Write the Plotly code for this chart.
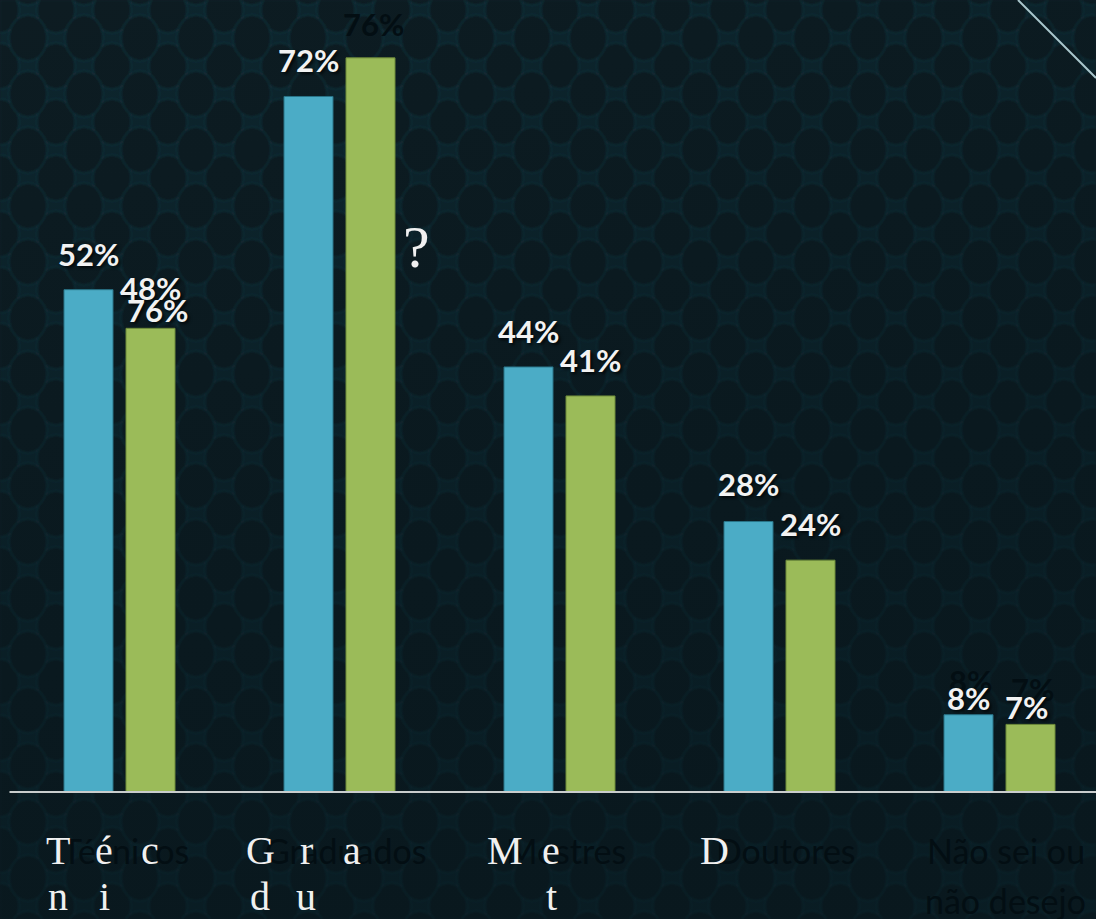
import base64
import plotly.graph_objects as go

# ---- data -------------------------------------------------------------
categories = ["Técnicos", "Graduados", "Mestres", "Doutores", "Não sei ou|não desejo"]
series_a = [52, 72, 44, 28, 8]     # blue bars
series_b = [48, 76, 41, 24, 7]     # green bars

# ---- page geometry (pixels) ------------------------------------------
W, H = 1096, 919
PLOT_H = 800                 # plot area spans y = 0 .. 800 px
BASE_PX = 792                # pixel row of the value 0
PX_PER_UNIT = 9.66
GROUP_PX = 220               # pixel width of one category band
FIRST_CENTER_PX = 119.5
BAR_PX = 49
PAIR_GAP_PX = 13

x_lo = -FIRST_CENTER_PX / GROUP_PX
x_hi = x_lo + W / GROUP_PX
y_hi = BASE_PX / PX_PER_UNIT
y_lo = -(PLOT_H - BASE_PX) / PX_PER_UNIT

bar_w = BAR_PX / GROUP_PX
half_sep = (BAR_PX + PAIR_GAP_PX) / 2 / GROUP_PX
idx = list(range(len(categories)))

BLUE = "#4bacc6"
GREEN = "#9bbb59"
BG = "#0b2028"
GHOST = "#030e13"
WHITE = "#f2f2f2"


def px_to_paper_x(px):
    return px / W


def px_to_paper_y(py):
    return (PLOT_H - py) / PLOT_H


# ---- patterned backdrop (scale texture + darkening toward the bottom) --
cells = []
for cx, cy in [(0, 0), (56, 0), (0, 56), (56, 56), (28, 28)]:
    cells.append(
        f"<ellipse cx='{cx}' cy='{cy - 4}' rx='19' ry='23' fill='#071a20' "
        f"stroke='#12313b' stroke-width='1.5'/>"
    )
svg = (
    f"<svg xmlns='http://www.w3.org/2000/svg' width='{W}' height='{H}'>"
    "<defs>"
    "<filter id='b'><feGaussianBlur stdDeviation='1.3'/></filter>"
    "<pattern id='p' width='56' height='56' patternUnits='userSpaceOnUse' x='0' y='14'>"
    "<rect width='56' height='56' fill='#0d252d'/>"
    + "".join(cells)
    + "</pattern>"
    "<linearGradient id='g' x1='0' y1='0' x2='0.3' y2='1'>"
    "<stop offset='0' stop-color='#06151b' stop-opacity='0.0'/>"
    "<stop offset='0.6' stop-color='#06151b' stop-opacity='0.4'/>"
    "<stop offset='1' stop-color='#06151b' stop-opacity='0.55'/>"
    "</linearGradient>"
    "</defs>"
    "<rect width='100%' height='100%' fill='url(#p)' filter='url(#b)'/>"
    "<rect width='100%' height='100%' fill='url(#g)'/>"
    "</svg>"
)
bg_uri = "data:image/svg+xml;base64," + base64.b64encode(svg.encode()).decode()

fig = go.Figure()

fig.add_trace(go.Bar(
    x=idx, y=series_a, width=bar_w, offset=-half_sep - bar_w / 2,
    marker=dict(color=BLUE, line=dict(color="#2a7488", width=1)),
    hoverinfo="skip", showlegend=False,
))
fig.add_trace(go.Bar(
    x=idx, y=series_b, width=bar_w, offset=half_sep - bar_w / 2,
    marker=dict(color=GREEN, line=dict(color="#6d8a3a", width=1)),
    hoverinfo="skip", showlegend=False,
))

annotations = []

# value labels: (series, index, text colour, yshift px, xshift px)
pct_font = dict(family="Lato", size=31, weight="bold")
label_specs = [
    (series_a, 0, WHITE, 15, 0), (series_a, 1, WHITE, 15, 0),
    (series_a, 2, WHITE, 15, 0), (series_a, 3, WHITE, 17, 0),
    (series_a, 4, GHOST, 13, 2), (series_a, 4, WHITE, -4, 0),
    (series_b, 0, WHITE, 19, 0), (series_b, 1, GHOST, 13, 3),
    (series_b, 2, WHITE, 15, 0), (series_b, 3, WHITE, 15, 0),
    (series_b, 4, GHOST, 14, 2), (series_b, 4, WHITE, -4, -4),
]
for series, i, color, dy, dx in label_specs:
    side = -half_sep if series is series_a else half_sep
    font = dict(pct_font, color=color)
    if color == WHITE:
        font["shadow"] = "2px 2px 3px rgba(0,0,0,0.75)"
    annotations.append(dict(
        x=i + side, y=series[i], xref="x", yref="y",
        text=f"{series[i]}%", showarrow=False,
        xanchor="center", yanchor="bottom", yshift=dy, xshift=dx,
        font=font,
    ))

# stray copy of the Graduados green label sitting over the Técnicos green bar
annotations.append(dict(
    x=0 + half_sep, y=series_b[0], xref="x", yref="y",
    text=f"{series_b[1]}%", showarrow=False,
    xanchor="center", yanchor="bottom", yshift=-3, xshift=7,
    font=dict(pct_font, color=WHITE, shadow="2px 2px 3px rgba(0,0,0,0.75)"),
))

# faint category names under the axis
cat_font = dict(family="Lato", size=34, color=GHOST)
for i, name in enumerate(categories):
    for line_no, part in enumerate(name.split("|")):
        annotations.append(dict(
            x=i, y=0, xref="x", yref="y", text=part, showarrow=False,
            xanchor="center", yanchor="top", xshift=6,
            yshift=-36 - 50 * line_no, font=cat_font,
        ))

# spaced serif letters written over the category row
serif_font = dict(family="Liberation Serif", size=40, color="#f0f0f0")
PITCH = 46
letter_rows = [
    (58, ["T", "é", "c"], ["n", "i"]),
    (260, ["G", "r", "a"], ["d", "u"]),
    (505, ["M", "e"], [None, "t"]),
    (714, ["D"], []),
]
LINE_TOPS = [826, 872]
for base, first, second in letter_rows:
    for line_no, chars in enumerate([first, second]):
        for k, ch in enumerate(chars):
            if ch is None:
                continue
            annotations.append(dict(
                x=px_to_paper_x(base + PITCH * k),
                y=px_to_paper_y(LINE_TOPS[line_no]),
                xref="paper", yref="paper", text=ch, showarrow=False,
                xanchor="center", yanchor="top", font=serif_font,
            ))

annotations.append(dict(
    x=px_to_paper_x(416), y=px_to_paper_y(212), xref="paper", yref="paper",
    text="?", showarrow=False, xanchor="center", yanchor="top",
    font=dict(family="Liberation Serif", size=60, color="#f0f0f0"),
))

shapes = [
    # category axis baseline
    dict(type="line", xref="x", yref="y", x0=-0.5, x1=x_hi, y0=0, y1=0,
         line=dict(color="#c9cdcd", width=2), layer="above"),
    # thin diagonal stroke in the top-right corner
    dict(type="line", xref="paper", yref="paper",
         x0=px_to_paper_x(1018), y0=px_to_paper_y(0),
         x1=px_to_paper_x(1096), y1=px_to_paper_y(78),
         line=dict(color="#a9c6cc", width=2)),
]

fig.update_layout(
    width=W, height=H,
    margin=dict(l=0, r=0, t=0, b=H - PLOT_H, pad=0),
    paper_bgcolor=BG, plot_bgcolor="rgba(0,0,0,0)",
    barmode="overlay",
    xaxis=dict(range=[x_lo, x_hi], showgrid=False, zeroline=False,
               showticklabels=False, ticks="", fixedrange=True),
    yaxis=dict(range=[y_lo, y_hi], showgrid=False, zeroline=False,
               showticklabels=False, ticks="", fixedrange=True),
    images=[dict(source=bg_uri, xref="paper", yref="paper", x=0, y=1,
                 sizex=1, sizey=H / PLOT_H, xanchor="left", yanchor="top",
                 sizing="stretch", layer="below")],
    annotations=annotations,
    shapes=shapes,
)

fig.write_html("out.html", config={"displayModeBar": False})
